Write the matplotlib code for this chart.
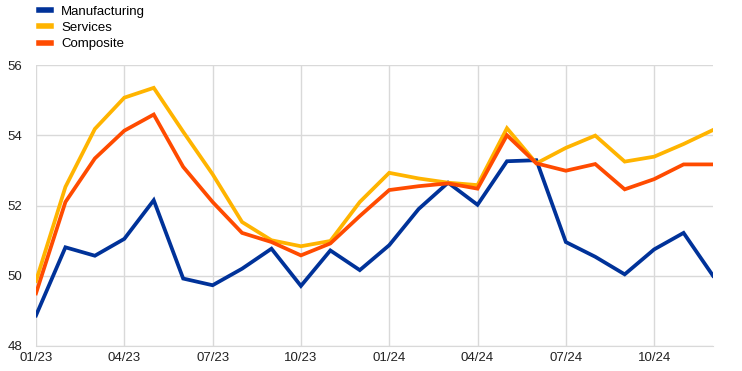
import matplotlib
matplotlib.use("Agg")
import matplotlib.pyplot as plt
from matplotlib.lines import Line2D

plt.rcParams['font.family'] = ['Liberation Sans', 'DejaVu Sans']

months = ["01/23","02/23","03/23","04/23","05/23","06/23","07/23","08/23","09/23","10/23","11/23","12/23",
          "01/24","02/24","03/24","04/24","05/24","06/24","07/24","08/24","09/24","10/24","11/24","12/24"]
manufacturing = [48.87, 50.81, 50.57, 51.05, 52.15, 49.92, 49.73, 50.20, 50.77, 49.71, 50.72, 50.16,
                 50.87, 51.90, 52.65, 52.02, 53.26, 53.29, 50.96, 50.54, 50.04, 50.75, 51.22, 50.00]
services = [49.85, 52.53, 54.18, 55.07, 55.35, 54.10, 52.89, 51.53, 51.01, 50.84, 50.99, 52.10,
            52.93, 52.77, 52.65, 52.58, 54.20, 53.20, 53.64, 53.99, 53.25, 53.39, 53.75, 54.15]
composite = [49.50, 52.10, 53.34, 54.13, 54.59, 53.10, 52.10, 51.22, 50.96, 50.58, 50.92, 51.70,
             52.44, 52.55, 52.63, 52.48, 54.00, 53.20, 52.99, 53.18, 52.46, 52.75, 53.17, 53.17]
series_names = ["Manufacturing", "Services", "Composite"]
colors = ["#003299", "#FFB400", "#FF4B00"]
yticks = [48, 50, 52, 54, 56]

fig = plt.figure(figsize=(7.42, 3.71), dpi=100)
ax = fig.add_axes([36/742, 25/371, (713-36)/742, (346-65)/371])

x = list(range(len(months)))
ax.plot(x, manufacturing, color=colors[0], lw=2.7, solid_joinstyle='miter', zorder=3)
ax.plot(x, services, color=colors[1], lw=2.7, solid_joinstyle='miter', zorder=3)
ax.plot(x, composite, color=colors[2], lw=2.7, solid_joinstyle='miter', zorder=3)

ax.set_xlim(0, len(months) - 1)
ax.set_ylim(48, 56)
ax.set_yticks(yticks)
ax.set_yticklabels([str(t) for t in yticks])
qt = list(range(0, len(months), 3))
ax.set_xticks(qt)
ax.set_xticklabels([months[i] for i in qt])
ax.grid(True, color="#d9d9d9", lw=1)
ax.set_axisbelow(True)
for s in ["top", "right", "left"]:
    ax.spines[s].set_visible(False)
ax.spines["bottom"].set_color("#d9d9d9")
ax.tick_params(length=0, labelsize=9.5, colors="#222222", pad=4)
ax.tick_params(axis='y', pad=10)

handles = [Line2D([0], [0], color=c, lw=4) for c in colors]
leg = fig.legend(handles, series_names, loc="upper left", bbox_to_anchor=(34/742, 1.0),
                 frameon=False, fontsize=9.5, handlelength=0.9, handletextpad=0.75,
                 labelspacing=0.32, borderaxespad=0)

fig.savefig("out.png", dpi=100)
